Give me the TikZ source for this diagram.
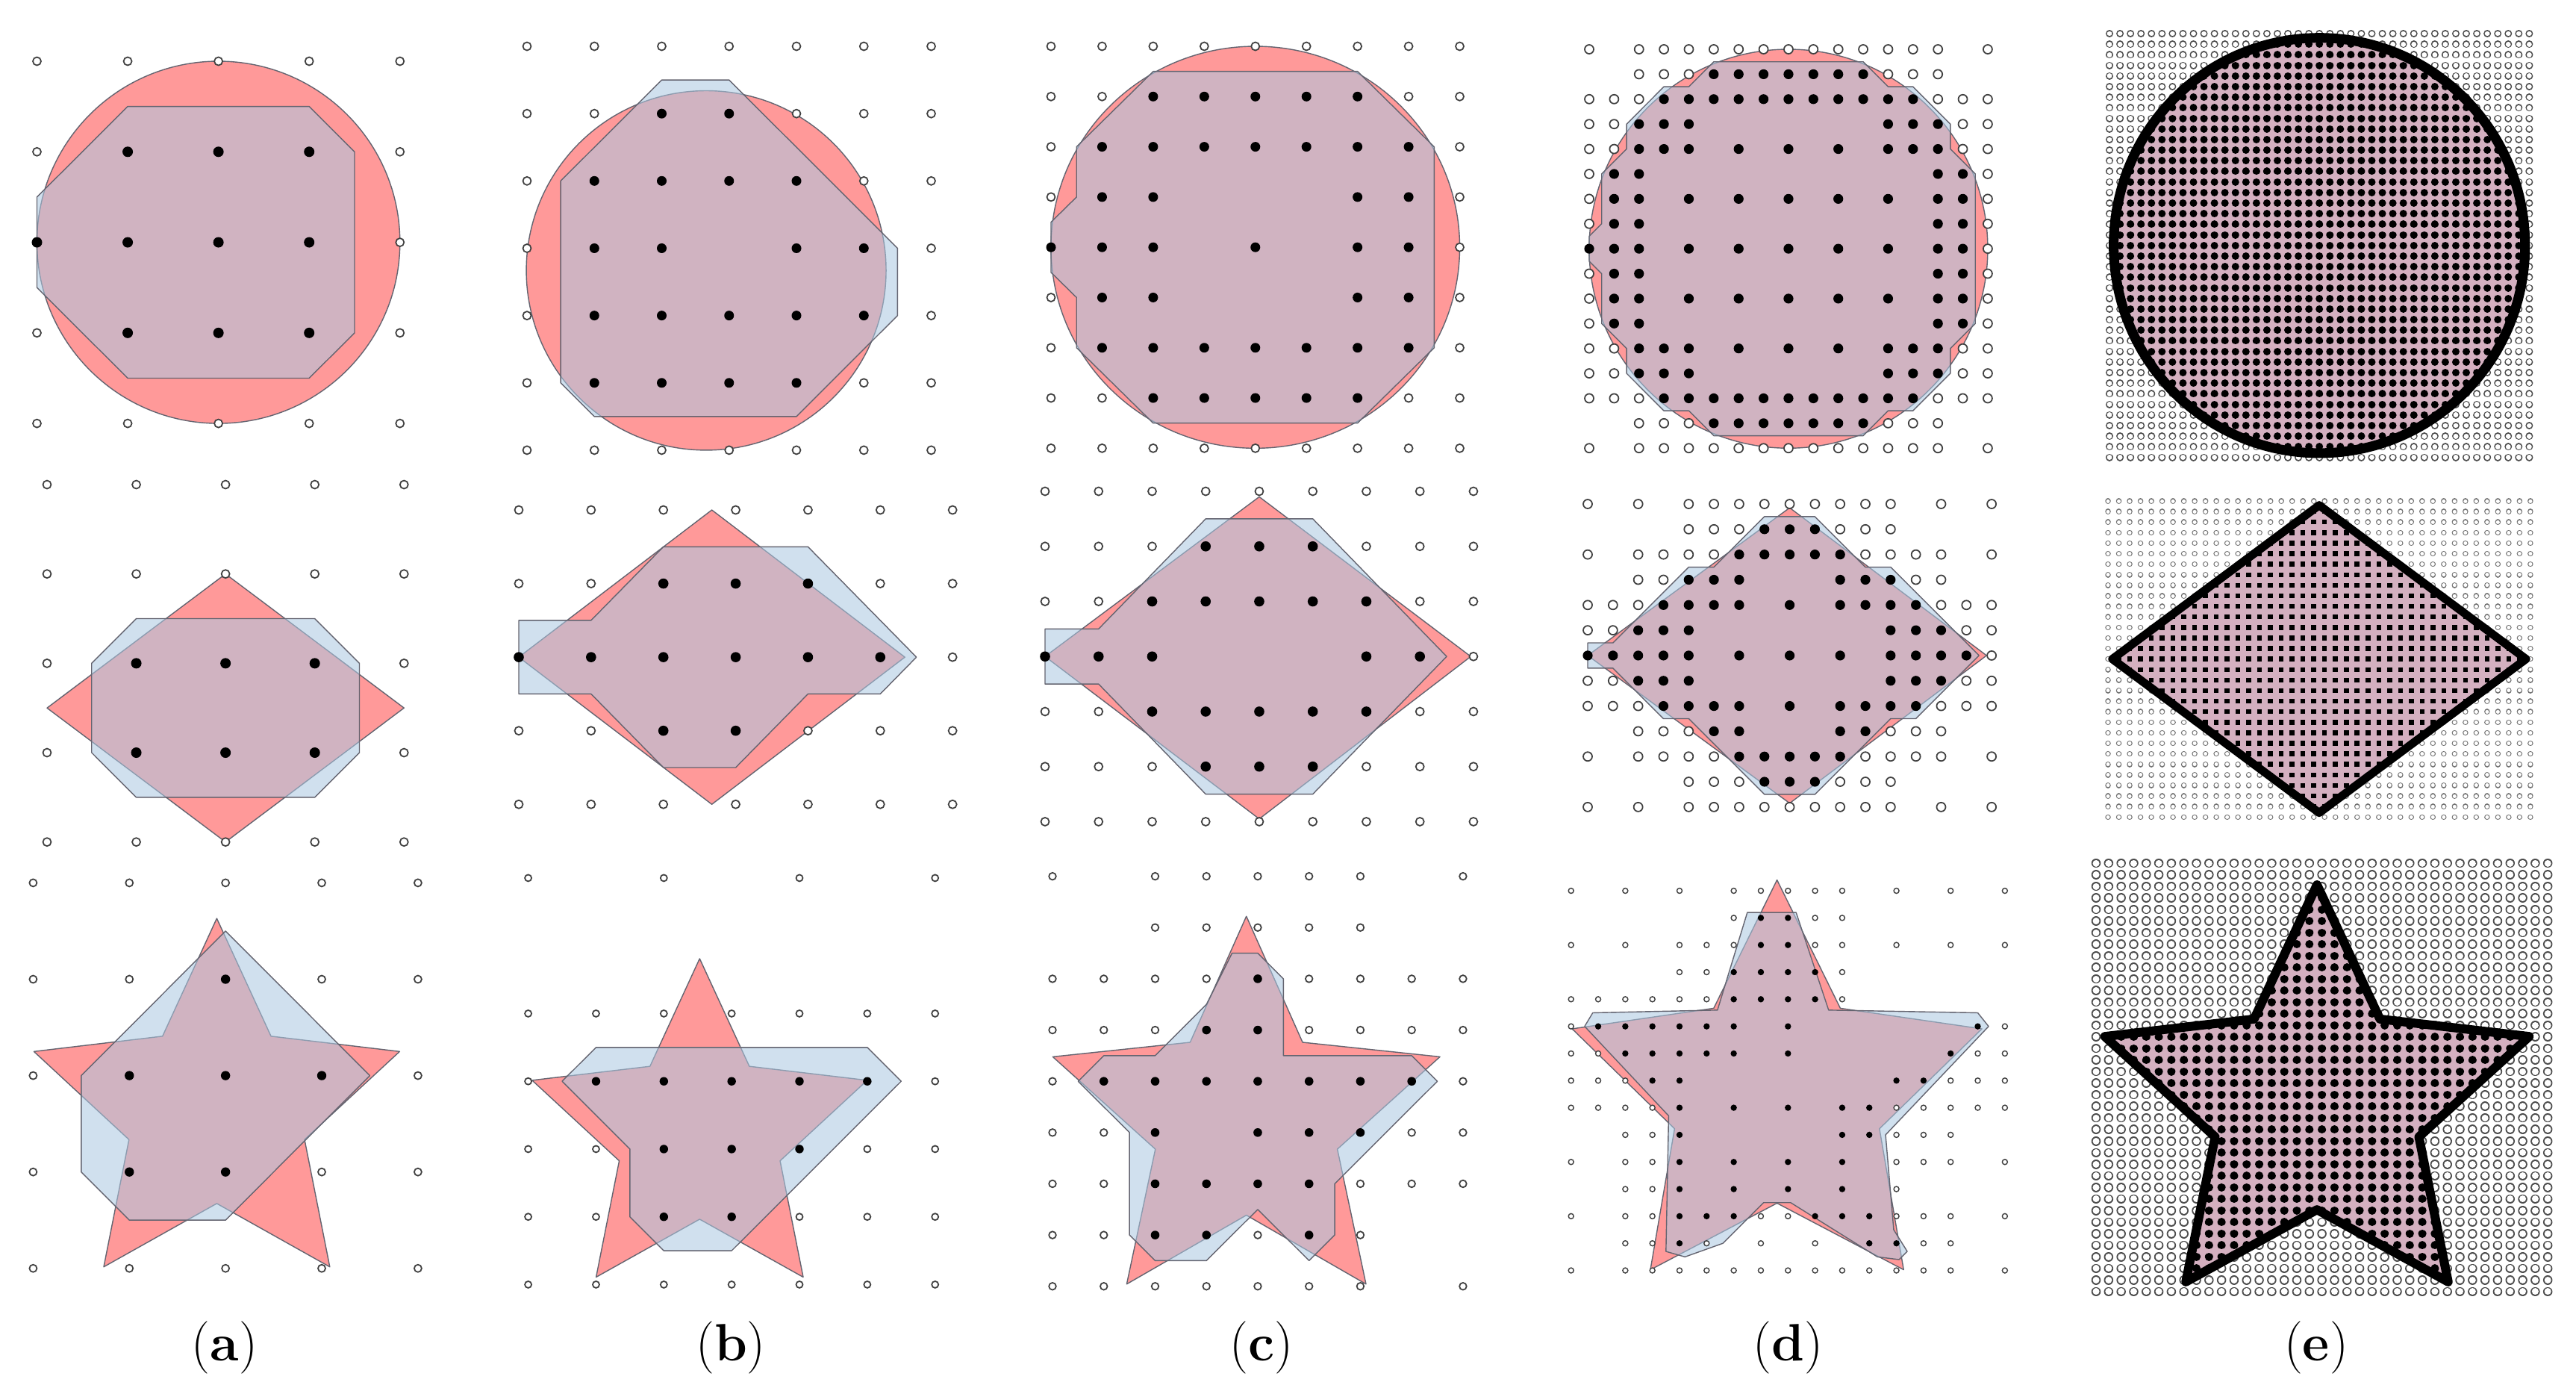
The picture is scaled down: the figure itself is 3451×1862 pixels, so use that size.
\documentclass[tikz,border=0pt]{standalone}
\definecolor{redf}{RGB}{255,153,153}
\definecolor{bluef}{RGB}{172,200,226}
\definecolor{edgec}{RGB}{100,100,112}
\definecolor{mauve}{RGB}{212,176,192}
\def\olw{0.5pt}
\tikzset{
  redsh/.style={fill=redf,draw=edgec,line width=0.4pt,line join=round},
  bluesh/.style={fill=bluef,fill opacity=0.56,draw=edgec,line width=0.4pt,line join=round},
  opn/.style={draw=black!75,fill=white,line width=\olw},
  fil/.style={fill=black},
  lbl/.style={font=\fontsize{20}{24}\selectfont,inner sep=0pt}
}
\newcommand\opnrow[2]{\foreach \i in {#2}{\path[opn] (\i,#1) circle[radius=\ro];}}
\newcommand\filrow[2]{\foreach \i in {#2}{\path[fil] (\i,#1) circle[radius=\rf];}}
\newcommand\dotsgrid[3]{\foreach \j in {0,...,#2}{\path[#3] \foreach \i in {0,...,#1}{(\i,\j) -- ++(0.002,0)};}}
\newcommand\starpx[5]{({#1},{#2-#4}) --
({#1+0.5878*#5*#3},{#2-0.8090*#5*#4}) --
({#1+0.9511*#3},{#2-0.3090*#4}) --
({#1+0.9511*#5*#3},{#2+0.3090*#5*#4}) --
({#1+0.5878*#3},{#2+0.8090*#4}) --
({#1},{#2+#5*#4}) --
({#1-0.5878*#3},{#2+0.8090*#4}) --
({#1-0.9511*#5*#3},{#2+0.3090*#5*#4}) --
({#1-0.9511*#3},{#2-0.3090*#4}) --
({#1-0.5878*#5*#3},{#2-0.8090*#5*#4}) -- cycle}
\begin{document}
\begin{tikzpicture}[x=0.01cm,y=-0.01cm]
\useasboundingbox (0,0) rectangle (3451,1862);
\fill[white] (0,0) rectangle (3451,1862);

%% ---------------- Row 1 ----------------
% 1a
\begin{scope}[shift={(49.5,82)},x={(1.215cm,0cm)},y={(0cm,-1.212cm)}]
\def\ro{0.055cm}\def\rf{0.07cm}
\path[redsh] (2,2) circle[radius=2];
\path[bluesh] (1,0.5)--(3,0.5)--(3.5,1)--(3.5,3)--(3,3.5)--(1,3.5)--(0.09,2.59)--(0,2.5)--(0,1.5)--(0.09,1.41)--cycle;
\opnrow{0}{0,...,4}\opnrow{1}{0,4}\opnrow{2}{4}\opnrow{3}{0,4}\opnrow{4}{0,...,4}
\filrow{1}{1,2,3}\filrow{2}{0,1,2,3}\filrow{3}{1,2,3}
\end{scope}
% 1b
\begin{scope}[shift={(706,62)},x={(0.902cm,0cm)},y={(0cm,-0.901cm)}]
\def\ro{0.055cm}\def\rf{0.065cm}
\path[redsh] (2.66,3.33) circle[radius=2.67];
\path[bluesh] (2,0.5)--(3,0.5)--(5.5,3)--(5.5,4)--(4,5.5)--(1,5.5)--(0.5,5)--(0.5,2)--cycle;
\opnrow{0}{0,...,6}\opnrow{1}{0,1,4,5,6}\opnrow{2}{0,5,6}\opnrow{3}{0,6}\opnrow{4}{0,6}\opnrow{5}{0,5,6}\opnrow{6}{0,...,6}
\filrow{1}{2,3}\filrow{2}{1,2,3,4}\filrow{3}{1,2,4,5}\filrow{4}{1,...,5}\filrow{5}{1,...,4}
\end{scope}
% 1c
\begin{scope}[shift={(1408,62)},x={(0.684cm,0cm)},y={(0cm,-0.6725cm)}]
\def\ro{0.055cm}\def\rf{0.065cm}
\path[redsh] (4,4) circle[radius=4];
\path[bluesh] (2,0.5)--(6,0.5)--(7.5,2)--(7.5,6)--(6,7.5)--(2,7.5)--(0.5,6)--(0.5,5)--(0,4.5)--(0,3.5)--(0.5,3)--(0.5,2)--cycle;
\opnrow{0}{0,...,8}\opnrow{1}{0,1,7,8}\opnrow{2}{0,8}\opnrow{3}{0,8}\opnrow{4}{8}\opnrow{5}{0,8}\opnrow{6}{0,8}\opnrow{7}{0,1,7,8}\opnrow{8}{0,...,8}
\filrow{1}{2,...,6}\filrow{2}{1,...,7}\filrow{3}{1,2,6,7}\filrow{4}{0,1,2,4,6,7}\filrow{5}{1,2,6,7}\filrow{6}{1,...,7}\filrow{7}{2,...,6}
\end{scope}
% 1d
\begin{scope}[shift={(2129,66)},x={(0.3335cm,0cm)},y={(0cm,-0.3337cm)}]
\def\ro{0.06cm}\def\rf{0.066cm}
\path[redsh] (8,8) circle[radius=8];
\path[bluesh] (5,0.5)--(11,0.5)--(12,1.5)--(13,1.5)--(14.5,3)--(14.5,4)--(15.5,5)--(15.5,11)--(14.5,12)--(14.5,13)--(13,14.5)--(12,14.5)--(11,15.5)--(5,15.5)--(4,14.5)--(3,14.5)--(1.5,13)--(1.5,12)--(0.5,11)--(0.5,9)--(0,8.5)--(0,7.5)--(0.5,7)--(0.5,5)--(1.5,4)--(1.5,3)--(3,1.5)--(4,1.5)--cycle;
\opnrow{0}{0,2,3,...,14,16}\opnrow{1}{2,3,4,12,13,14}\opnrow{2}{0,1,2,14,15,16}\opnrow{3}{0,1,15,16}\opnrow{4}{0,1,15,16}
\opnrow{5}{0,16}\opnrow{6}{0,16}\opnrow{7}{0,16}\opnrow{8}{16}\opnrow{9}{0,16}\opnrow{10}{0,16}\opnrow{11}{0,16}
\opnrow{12}{0,1,15,16}\opnrow{13}{0,1,15,16}\opnrow{14}{0,1,2,14,15,16}\opnrow{15}{2,3,4,12,13,14}\opnrow{16}{0,2,3,...,14,16}
\filrow{1}{5,...,11}\filrow{2}{3,...,13}\filrow{3}{2,3,4,12,13,14}\filrow{4}{2,3,4,6,8,10,12,13,14}
\filrow{5}{1,2,14,15}\filrow{6}{1,2,4,6,8,10,12,14,15}\filrow{7}{1,2,14,15}\filrow{8}{0,1,2,4,6,8,10,12,14,15}
\filrow{9}{1,2,14,15}\filrow{10}{1,2,4,6,8,10,12,14,15}\filrow{11}{1,2,14,15}\filrow{12}{2,3,4,6,8,10,12,13,14}
\filrow{13}{2,3,4,12,13,14}\filrow{14}{3,...,13}\filrow{15}{5,...,11}
\end{scope}
% 1e
\begin{scope}[shift={(2826,45)},x={(0.1405cm,0cm)},y={(0cm,-0.1418cm)}]
\dotsgrid{40}{40}{draw=black!70,line width=0.1cm,line cap=round}
\dotsgrid{40}{40}{draw=white,line width=0.068cm,line cap=round}
\path[fill=mauve] (20,20) circle[radius=20];
\begin{scope}
\clip (20,20) circle[radius=19.5];
\dotsgrid{40}{40}{draw=black,line width=0.1cm,line cap=round}
\end{scope}
\draw[line width=0.13cm] (20,20) circle[radius=19.6];
\end{scope}

%% ---------------- Row 2 ----------------
% 2a
\begin{scope}[shift={(63,649)},x={(1.195cm,0cm)},y={(0cm,-1.196cm)}]
\def\ro{0.055cm}\def\rf{0.07cm}
\path[redsh] (2,1)--(4,2.5)--(2,4)--(0,2.5)--cycle;
\path[bluesh] (1,1.5)--(3,1.5)--(3.5,2)--(3.5,3)--(3,3.5)--(1,3.5)--(0.5,3)--(0.5,2)--cycle;
\opnrow{0}{0,...,4}\opnrow{1}{0,...,4}\opnrow{2}{0,4}\opnrow{3}{0,4}\opnrow{4}{0,...,4}
\filrow{2}{1,2,3}\filrow{3}{1,2,3}
\end{scope}
% 2b
\begin{scope}[shift={(695,683)},x={(0.968cm,0cm)},y={(0cm,-0.985cm)}]
\def\ro{0.055cm}\def\rf{0.068cm}
\path[redsh] (2.67,0)--(5.34,2)--(2.67,4)--(0,2)--cycle;
\path[bluesh] (0,1.5)--(1,1.5)--(2,0.5)--(4,0.5)--(5.5,2)--(5,2.5)--(4,2.5)--(3,3.5)--(2,3.5)--(1,2.5)--(0,2.5)--cycle;
\opnrow{0}{0,...,6}\opnrow{1}{0,1,5,6}\opnrow{2}{6}\opnrow{3}{0,1,4,5,6}\opnrow{4}{0,...,6}
\filrow{1}{2,3,4}\filrow{2}{0,...,5}\filrow{3}{2,3}
\end{scope}
% 2c
\begin{scope}[shift={(1400,658)},x={(0.717cm,0cm)},y={(0cm,-0.737cm)}]
\def\ro{0.055cm}\def\rf{0.068cm}
\path[redsh] (4,0.1)--(7.95,3)--(4,5.95)--(0,3)--cycle;
\path[bluesh] (0,2.5)--(1,2.5)--(3,0.5)--(5,0.5)--(7.5,3)--(5,5.5)--(3,5.5)--(1,3.5)--(0,3.5)--cycle;
\opnrow{0}{0,...,8}\opnrow{1}{0,1,2,6,7,8}\opnrow{2}{0,1,7,8}\opnrow{3}{8}\opnrow{4}{0,1,7,8}\opnrow{5}{0,1,2,6,7,8}\opnrow{6}{0,...,8}
\filrow{1}{3,4,5}\filrow{2}{2,...,6}\filrow{3}{0,1,2,6,7}\filrow{4}{2,...,6}\filrow{5}{3,4,5}
\end{scope}
% 2d
\begin{scope}[shift={(2127,675)},x={(0.338cm,0cm)},y={(0cm,-0.338cm)}]
\def\ro{0.06cm}\def\rf{0.066cm}
\path[redsh] (8,0.15)--(15.8,6)--(8,11.85)--(0,6)--cycle;
\path[bluesh] (7,0.5)--(9,0.5)--(11,2.5)--(12,2.5)--(15.5,6)--(13,8.5)--(12,8.5)--(9,11.5)--(7,11.5)--(4,8.5)--(3,8.5)--(1,6.5)--(0,6.5)--(0,5.5)--(1,5.5)--(4,2.5)--(5,2.5)--cycle;
\opnrow{0}{0,2,4,5,...,12,14,16}\opnrow{1}{4,5,6,10,11,12}\opnrow{2}{0,2,3,4,5,11,12,13,14,16}\opnrow{3}{2,3,13,14}
\opnrow{4}{0,1,2,14,15,16}\opnrow{5}{0,1,15,16}\opnrow{6}{16}\opnrow{7}{0,1,15,16}\opnrow{8}{0,1,2,14,15,16}
\opnrow{9}{2,3,4,12,13,14}\opnrow{10}{0,2,3,4,5,11,12,13,14,16}\opnrow{11}{4,5,6,10,11,12}\opnrow{12}{0,2,4,5,...,12,14,16}
\filrow{1}{7,8,9}\filrow{2}{6,...,10}\filrow{3}{4,5,6,10,11,12}\filrow{4}{3,4,5,6,8,10,11,12,13}
\filrow{5}{2,3,4,12,13,14}\filrow{6}{0,...,4,6,8,10,12,13,14,15}\filrow{7}{2,3,4,12,13,14}
\filrow{8}{3,4,5,6,8,10,11,12,13}\filrow{9}{5,6,10,11}\filrow{10}{6,...,10}\filrow{11}{7,8,9}
\end{scope}
% 2e
\begin{scope}[shift={(2824,671)},x={(0.145cm,0cm)},y={(0cm,-0.141cm)}]
\dotsgrid{39}{30}{draw=black!55,line width=0.075cm,line cap=round}
\dotsgrid{39}{30}{draw=white,line width=0.05cm,line cap=round}
\path[fill=mauve] (19.5,0)--(39,15)--(19.5,30)--(0,15)--cycle;
\begin{scope}
\clip (19.5,0.4)--(38.5,15)--(19.5,29.6)--(0.5,15)--cycle;
\dotsgrid{39}{30}{draw=black,line width=0.065cm,line cap=rect}
\end{scope}
\draw[line width=0.11cm,line join=round] (19.5,0.4)--(38.6,15)--(19.5,29.6)--(0.4,15)--cycle;
\end{scope}

%% ---------------- Row 3 ----------------
% 3a
\path[redsh] \starpx{290.4}{1488}{257.6}{258}{0.48};
\begin{scope}[shift={(44.4,1182.4)},x={(1.288cm,0cm)},y={(0cm,-1.29cm)}]
\def\ro{0.05cm}\def\rf{0.062cm}
\path[bluesh] (2,0.5)--(3.5,2)--(2,3.5)--(1,3.5)--(0.5,3)--(0.5,2)--cycle;
\opnrow{0}{0,...,4}\opnrow{1}{0,1,3,4}\opnrow{2}{0,4}\opnrow{3}{0,3,4}\opnrow{4}{0,...,4}
\filrow{1}{2}\filrow{2}{1,2,3}\filrow{3}{1,2}
\end{scope}
% 3b
\path[redsh] \starpx{937.3}{1519.7}{236}{235.8}{0.48};
\begin{scope}[shift={(707.6,1175.9)},x={(0.908cm,0cm)},y={(0cm,-0.907cm)}]
\def\ro{0.045cm}\def\rf{0.057cm}
\path[bluesh] (1,2.5)--(5,2.5)--(5.5,3)--(4,4.5)--(3,5.5)--(2,5.5)--(1.5,5)--(1.5,4)--(0.5,3)--cycle;
\opnrow{0}{0,2,4,6}\opnrow{2}{0,...,6}\opnrow{3}{0,6}\opnrow{4}{0,1,5,6}\opnrow{5}{0,1,4,5,6}\opnrow{6}{0,...,6}
\filrow{3}{1,...,5}\filrow{4}{2,3,4}\filrow{5}{2,3}
\end{scope}
% 3c
\path[redsh] \starpx{1669.7}{1499.5}{272.7}{272.3}{0.47};
\begin{scope}[shift={(1410,1173.6)},x={(0.687cm,0cm)},y={(0cm,-0.686cm)}]
\def\ro{0.048cm}\def\rf{0.058cm}
\path[bluesh] (4,1.5)--(4.5,2)--(4.5,3.5)--(7,3.5)--(7.5,4)--(5.5,6)--(5.5,7)--(5,7.5)--(4,6.5)--(3,7.5)--(2,7.5)--(1.5,7)--(1.5,5)--(0.5,4)--(1,3.5)--(2,3.5)--(3,2.5)--(3.5,1.5)--cycle;
\opnrow{0}{0,2,3,4,5,6,8}\opnrow{1}{2,...,6}\opnrow{2}{0,1,2,3,5,6,7,8}\opnrow{3}{0,1,2,5,6,7,8}\opnrow{4}{0,8}
\opnrow{5}{0,1,7,8}\opnrow{6}{0,1,6,7,8}\opnrow{7}{0,1,4,6}\opnrow{8}{0,...,6,8}
\filrow{2}{4}\filrow{3}{3,4}\filrow{4}{1,...,7}\filrow{5}{2,4,5,6}\filrow{6}{2,3,4,5}\filrow{7}{2,3,5}
\end{scope}
% 3d
\path[redsh] \starpx{2380.6}{1467.1}{288.6}{288.6}{0.5};
\begin{scope}[shift={(2104.7,1193)},x={(0.363cm,0cm)},y={(0cm,-0.363cm)}]
\def\ro{0.035cm}\def\rf{0.042cm}\def\olw{0.4pt}
\path[bluesh] (6.5,0.8)--(8.3,0.8)--(9.5,4.4)--(15,4.5)--(15.4,5)--(11.6,9)--(11.9,12.5)--(12.4,13.3)--(12.1,13.6)--(11.3,13.5)--(8.1,11.5)--(7.1,11.5)--(5.6,13)--(4.2,13.5)--(3.5,13.3)--(3.6,8.3)--(0.5,5)--(0.8,4.5)--(5.4,4.4)--cycle;
\opnrow{0}{0,2,4,6,7,8,9,10,12,14,16}\opnrow{1}{6,9,10}\opnrow{2}{0,2,4,5,6,9,10,12,14,16}\opnrow{3}{4,5,10}
\opnrow{4}{0,...,5,10,...,16}\opnrow{5}{0,16}\opnrow{6}{0,1,15,16}\opnrow{7}{0,1,2,14,15,16}
\opnrow{8}{0,1,2,3,12,13,14,15,16}\opnrow{9}{2,3,12,13,14}\opnrow{10}{0,2,3,12,13,14,16}\opnrow{11}{2,3,12}
\opnrow{12}{0,2,3,7,8,12,13,14,16}\opnrow{13}{2,3,5,...,10,13,14}\opnrow{14}{0,2,3,...,14,16}
\filrow{1}{7,8}\filrow{2}{7,8}\filrow{3}{6,...,9}\filrow{4}{6,...,9}\filrow{5}{1,...,6,8,...,15}
\filrow{6}{2,...,6,8,...,14}\filrow{7}{3,4,12,13}\filrow{8}{4,6,8,10,11}\filrow{9}{4,10,11}
\filrow{10}{4,6,...,11}\filrow{11}{4,6,...,11}\filrow{12}{4,5,6,9,10,11}\filrow{13}{4,11,12}
\end{scope}
% 3e
\begin{scope}[shift={(2808,1156)},x={(0.168cm,0cm)},y={(0cm,-0.155cm)}]
\dotsgrid{36}{37}{draw=black!70,line width=0.125cm,line cap=round}
\dotsgrid{36}{37}{draw=white,line width=0.09cm,line cap=round}
\end{scope}
\path[fill=mauve] \starpx{3104}{1479}{305}{300}{0.48};
\begin{scope}
\clip \starpx{3104}{1479}{299}{294}{0.48};
\begin{scope}[shift={(2808,1156)},x={(0.168cm,0cm)},y={(0cm,-0.155cm)}]
\dotsgrid{36}{37}{draw=black,line width=0.11cm,line cap=round}
\end{scope}
\end{scope}
\draw[line width=0.12cm,line join=round] \starpx{3104}{1479}{299}{294}{0.48};

%% ---------------- Labels ----------------
\node[lbl] (la) at (301,1805) {(\textbf{a})};
\node[lbl] (lb) at (979,1805) {(\textbf{b})};
\node[lbl] (lc) at (1690,1805) {(\textbf{c})};
\node[lbl] (ld) at (2395,1805) {(\textbf{d})};
\node[lbl] (le) at (3103,1805) {(\textbf{e})};
\end{tikzpicture}
\end{document}
